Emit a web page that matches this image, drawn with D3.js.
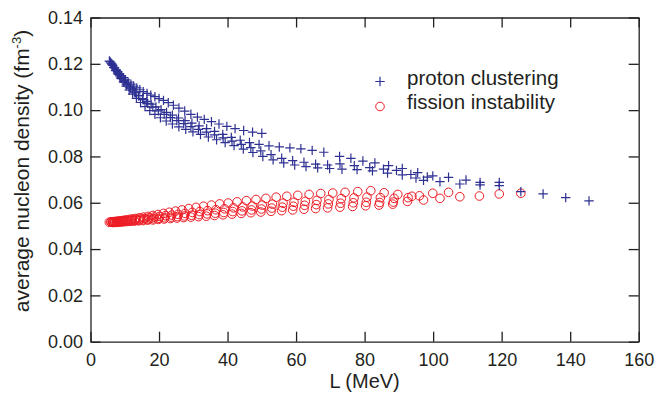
<!DOCTYPE html>
<html>
<head>
<meta charset="utf-8">
<script src="https://cdn.jsdelivr.net/npm/d3@7"></script>
<style>
  html, body { margin: 0; padding: 0; background: #fff; }
  svg { display: block; font-family: "Liberation Sans", Arial, Helvetica, sans-serif; }
</style>
</head>
<body>
<div id="chart"></div>
<script>
// proton clustering (blue +)
const protonL1 = [5.5, 6.0, 6.5, 7.0, 7.5, 8.0, 8.5, 9.0, 9.6, 10.2, 11.0, 11.8, 12.6, 13.5, 14.4, 15.4, 16.5, 17.6, 18.8, 20.0, 21.3, 22.7, 24.2, 25.8, 27.5, 29.3, 31.2, 33.2, 35.3, 37.5, 39.8, 42.2, 44.7, 47.3, 50.0];
const protonRho1 = [0.1212, 0.1203, 0.1193, 0.1183, 0.1174, 0.1165, 0.1157, 0.1149, 0.1140, 0.1131, 0.1121, 0.1112, 0.1104, 0.1096, 0.1088, 0.1080, 0.1072, 0.1065, 0.1058, 0.1050, 0.1042, 0.1032, 0.1021, 0.1009, 0.0996, 0.0982, 0.0970, 0.0960, 0.0950, 0.0940, 0.0930, 0.0920, 0.0912, 0.0905, 0.0900];

const protonL2 = [5.8, 6.3, 6.8, 7.3, 7.9, 8.5, 9.1, 9.8, 10.5, 11.3, 12.2, 13.1, 14.1, 15.2, 16.4, 17.7, 19.1, 20.6, 22.2, 23.9, 25.7, 27.6, 29.6, 31.7, 33.9, 36.2, 38.6, 41.1, 43.7, 46.4, 49.2, 52.1, 55.1, 58.2, 61.4, 64.7, 68.1, 72.7, 76.0, 79.5, 83.0, 87.0, 91.0, 95.5, 99.9];
const protonRho2 = [0.1208, 0.1196, 0.1184, 0.1172, 0.1160, 0.1148, 0.1136, 0.1124, 0.1112, 0.1100, 0.1087, 0.1075, 0.1063, 0.1050, 0.1038, 0.1026, 0.1014, 0.1002, 0.0990, 0.0978, 0.0966, 0.0955, 0.0944, 0.0932, 0.0920, 0.0908, 0.0895, 0.0882, 0.0870, 0.0860, 0.0852, 0.0846, 0.0841, 0.0837, 0.0833, 0.0826, 0.0818, 0.0800, 0.0792, 0.0780, 0.0772, 0.0760, 0.0748, 0.0730, 0.0716];

const protonL3 = [6.2, 6.8, 7.4, 8.1, 8.8, 9.6, 10.4, 11.3, 12.3, 13.4, 14.6, 15.9, 17.3, 18.8, 20.4, 22.1, 23.9, 25.8, 27.8, 29.9, 32.1, 34.4, 36.8, 39.3, 41.9, 44.6, 47.4, 50.3, 53.3, 56.4, 59.6, 62.9, 66.3, 69.8, 73.4, 77.8, 82.3, 86.7, 91.0, 95.0, 97.2, 102.0, 107.8, 113.7, 119.3];
const protonRho3 = [0.1200, 0.1185, 0.1170, 0.1154, 0.1138, 0.1121, 0.1104, 0.1087, 0.1069, 0.1051, 0.1033, 0.1015, 0.0998, 0.0982, 0.0967, 0.0953, 0.0940, 0.0928, 0.0917, 0.0906, 0.0895, 0.0884, 0.0872, 0.0860, 0.0847, 0.0832, 0.0817, 0.0800, 0.0785, 0.0772, 0.0763, 0.0756, 0.0751, 0.0748, 0.0745, 0.0743, 0.0738, 0.0728, 0.0720, 0.0707, 0.0697, 0.0691, 0.0681, 0.0677, 0.0674];

const protonL4 = [7.0, 7.6, 8.3, 9.0, 9.8, 10.7, 11.7, 12.8, 14.0, 15.3, 16.7, 18.2, 19.8, 21.5, 23.3, 25.2, 27.2, 29.3, 31.5, 33.8, 36.2, 38.7, 41.3, 44.0, 46.8, 49.7, 52.7, 55.8, 59.0, 62.3, 65.7, 69.2, 72.8, 77.0, 81.5, 85.5, 89.3, 93.5, 98.3, 104.5, 109.6, 113.7, 119.3, 125.6, 132.1, 138.7, 145.5];
const protonRho4 = [0.1182, 0.1170, 0.1156, 0.1142, 0.1127, 0.1111, 0.1095, 0.1079, 0.1062, 0.1045, 0.1029, 0.1013, 0.0997, 0.0982, 0.0968, 0.0955, 0.0942, 0.0929, 0.0917, 0.0905, 0.0893, 0.0880, 0.0866, 0.0852, 0.0838, 0.0824, 0.0808, 0.0792, 0.0782, 0.0775, 0.0767, 0.0763, 0.0768, 0.0760, 0.0752, 0.0745, 0.0740, 0.0722, 0.0711, 0.0710, 0.0698, 0.0688, 0.0688, 0.0648, 0.0638, 0.0622, 0.0608];

// fission instability (red o)
const fissionL1 = [5.5, 6.0, 6.5, 7.0, 7.6, 8.2, 8.9, 9.6, 10.4, 11.3, 12.2, 13.2, 14.3, 15.5, 16.8, 18.2, 19.7, 21.3, 23.0, 24.8, 26.7, 28.7, 30.8, 33.0, 35.3, 37.7, 40.2, 42.8, 45.5, 48.3, 51.2, 54.2, 57.3, 60.5, 63.8, 67.2, 70.7, 74.3, 78.0, 81.8, 85.7, 89.7, 93.8, 99.9, 104.5, 113.5, 119.3, 125.6];
const fissionRho1 = [0.0516, 0.0517, 0.0518, 0.0519, 0.0520, 0.0521, 0.0522, 0.0524, 0.0526, 0.0528, 0.0530, 0.0532, 0.0535, 0.0538, 0.0541, 0.0545, 0.0549, 0.0554, 0.0559, 0.0564, 0.0569, 0.0575, 0.0580, 0.0585, 0.0590, 0.0595, 0.0599, 0.0604, 0.0609, 0.0614, 0.0619, 0.0624, 0.0628, 0.0632, 0.0636, 0.0640, 0.0642, 0.0645, 0.0648, 0.0652, 0.0643, 0.0636, 0.0628, 0.0641, 0.0645, 0.0629, 0.0638, 0.0641];

const fissionL2 = [6.0, 6.6, 7.2, 7.9, 8.6, 9.4, 10.2, 11.1, 12.1, 13.2, 14.4, 15.7, 17.1, 18.6, 20.2, 21.9, 23.7, 25.6, 27.6, 29.7, 31.9, 34.2, 36.6, 39.1, 41.7, 44.4, 47.2, 50.1, 53.1, 56.2, 59.4, 62.7, 66.1, 69.6, 73.2, 76.9, 80.7, 84.6, 88.6, 92.7, 96.0];
const fissionRho2 = [0.0516, 0.0517, 0.0518, 0.0519, 0.0520, 0.0521, 0.0522, 0.0524, 0.0526, 0.0528, 0.0530, 0.0532, 0.0535, 0.0538, 0.0541, 0.0544, 0.0547, 0.0550, 0.0554, 0.0558, 0.0562, 0.0566, 0.0570, 0.0574, 0.0578, 0.0582, 0.0586, 0.0590, 0.0594, 0.0598, 0.0602, 0.0606, 0.0610, 0.0614, 0.0618, 0.0621, 0.0624, 0.0622, 0.0619, 0.0622, 0.0630];

const fissionL3 = [6.4, 7.0, 7.7, 8.4, 9.2, 10.0, 10.9, 11.9, 13.0, 14.2, 15.5, 16.9, 18.4, 20.0, 21.7, 23.5, 25.4, 27.4, 29.5, 31.7, 34.0, 36.4, 38.9, 41.5, 44.2, 47.0, 49.9, 52.9, 56.0, 59.2, 62.5, 65.9, 69.4, 73.0, 76.7, 80.5, 84.4, 88.4, 92.5, 97.2, 102.0, 107.8];
const fissionRho3 = [0.0515, 0.0516, 0.0517, 0.0518, 0.0519, 0.0520, 0.0521, 0.0522, 0.0524, 0.0525, 0.0527, 0.0529, 0.0531, 0.0533, 0.0535, 0.0538, 0.0540, 0.0543, 0.0546, 0.0549, 0.0552, 0.0555, 0.0558, 0.0562, 0.0565, 0.0569, 0.0573, 0.0577, 0.0581, 0.0585, 0.0589, 0.0592, 0.0595, 0.0598, 0.0600, 0.0602, 0.0601, 0.0603, 0.0606, 0.0612, 0.0619, 0.0626];

const fissionL4 = [6.8, 7.5, 8.2, 9.0, 9.8, 10.7, 11.7, 12.8, 14.0, 15.3, 16.7, 18.2, 19.8, 21.5, 23.3, 25.2, 27.2, 29.3, 31.5, 33.8, 36.2, 38.7, 41.3, 44.0, 46.8, 49.7, 52.7, 55.8, 59.0, 62.3, 65.7, 69.2, 72.8, 76.5, 80.3, 84.2, 88.2];
const fissionRho4 = [0.0515, 0.0515, 0.0516, 0.0517, 0.0518, 0.0519, 0.0520, 0.0521, 0.0522, 0.0523, 0.0525, 0.0526, 0.0528, 0.0530, 0.0532, 0.0534, 0.0536, 0.0538, 0.0540, 0.0542, 0.0545, 0.0548, 0.0551, 0.0554, 0.0557, 0.0560, 0.0563, 0.0566, 0.0569, 0.0572, 0.0575, 0.0578, 0.0581, 0.0584, 0.0587, 0.0590, 0.0594];

// tick labels
const xTicks = [0, 20, 40, 60, 80, 100, 120, 140, 160];
const yTicks = [0, 0.02, 0.04, 0.06, 0.08, 0.10, 0.12, 0.14];
const legendLabels = ["proton clustering", "fission instability"];

// layout
const W = 655, H = 398;
const plotLeft = 90.5, plotRight = 638.7, plotTop = 17.5, plotBottom = 341.7;
const ink = "#231f20";
const blue = "#2e3192";
const red = "#ed1c24";

const zip = (xs, ys) => xs.map((v, i) => ({ L: v, rho: ys[i] }));
const protonData = [
    zip(protonL1, protonRho1), zip(protonL2, protonRho2),
    zip(protonL3, protonRho3), zip(protonL4, protonRho4)
].flat();
const fissionData = [
    zip(fissionL1, fissionRho1), zip(fissionL2, fissionRho2),
    zip(fissionL3, fissionRho3), zip(fissionL4, fissionRho4)
].flat();

const x = d3.scaleLinear().domain([0, 160]).range([plotLeft, plotRight]);
const y = d3.scaleLinear().domain([0, 0.14]).range([plotBottom, plotTop]);

const svg = d3.select("#chart")
    .append("svg")
    .attr("width", W)
    .attr("height", H);

// shared look for all four axes (ticks point inward)
function styleAxis(g) {
    g.attr("font-family", null).attr("font-size", null);
    g.select(".domain").attr("stroke", ink).attr("stroke-width", 1.3);
    g.selectAll(".tick line").attr("stroke", ink).attr("stroke-width", 1.3);
    g.selectAll(".tick text").attr("fill", ink).style("font-size", "18px");
}

svg.append("g")
    .attr("transform", `translate(0, ${plotBottom})`)
    .call(d3.axisBottom(x).tickValues(xTicks).tickSizeInner(-10).tickSizeOuter(0).tickPadding(12))
    .call(styleAxis);

svg.append("g")
    .attr("transform", `translate(0, ${plotTop})`)
    .call(d3.axisTop(x).tickValues(xTicks).tickSizeInner(-10).tickSizeOuter(0).tickFormat(() => ""))
    .call(styleAxis);

svg.append("g")
    .attr("transform", `translate(${plotLeft}, 0)`)
    .call(d3.axisLeft(y).tickValues(yTicks).tickSizeInner(-10).tickSizeOuter(0).tickPadding(7.5).tickFormat(d3.format(".2f")))
    .call(styleAxis);

svg.append("g")
    .attr("transform", `translate(${plotRight}, 0)`)
    .call(d3.axisRight(y).tickValues(yTicks).tickSizeInner(-10).tickSizeOuter(0).tickFormat(() => ""))
    .call(styleAxis);

// fission instability circles
svg.append("g")
    .selectAll("circle")
    .data(fissionData)
    .enter()
    .append("circle")
    .attr("cx", d => x(d.L))
    .attr("cy", d => y(d.rho))
    .attr("r", 4.3)
    .attr("fill", "none")
    .attr("stroke", red)
    .attr("stroke-width", 1);

// proton clustering crosses
const plus = "M-4.7,0H4.7M0,-4.7V4.7";
svg.append("g")
    .selectAll("path")
    .data(protonData)
    .enter()
    .append("path")
    .attr("d", plus)
    .attr("transform", d => `translate(${x(d.L)}, ${y(d.rho)})`)
    .attr("stroke", blue)
    .attr("stroke-width", 1.2)
    .attr("fill", "none");

// axis titles
svg.append("text")
    .attr("x", (plotLeft + plotRight) / 2)
    .attr("y", 388)
    .attr("text-anchor", "middle")
    .attr("fill", ink)
    .style("font-size", "20px")
    .text("L (MeV)");

const yTitle = svg.append("text")
    .attr("transform", "translate(28.6, 171) rotate(-90)")
    .attr("text-anchor", "middle")
    .attr("fill", ink)
    .style("font-size", "21px");
yTitle.append("tspan").text("average nucleon density (fm");
yTitle.append("tspan").attr("dy", -8).style("font-size", "13px").text("-3");
yTitle.append("tspan").attr("dy", 8).text(")");

// legend
const legend = svg.append("g");
legend.append("path")
    .attr("d", plus)
    .attr("transform", "translate(380, 81.5)")
    .attr("stroke", blue)
    .attr("stroke-width", 1.2);
legend.append("circle")
    .attr("cx", 380)
    .attr("cy", 106.5)
    .attr("r", 4.3)
    .attr("fill", "none")
    .attr("stroke", red)
    .attr("stroke-width", 1);
legend.selectAll("text")
    .data(legendLabels)
    .enter()
    .append("text")
    .attr("x", 407)
    .attr("y", (d, i) => 85 + i * 24)
    .attr("fill", ink)
    .style("font-size", "20.5px")
    .text(d => d);
</script>
</body>
</html>
